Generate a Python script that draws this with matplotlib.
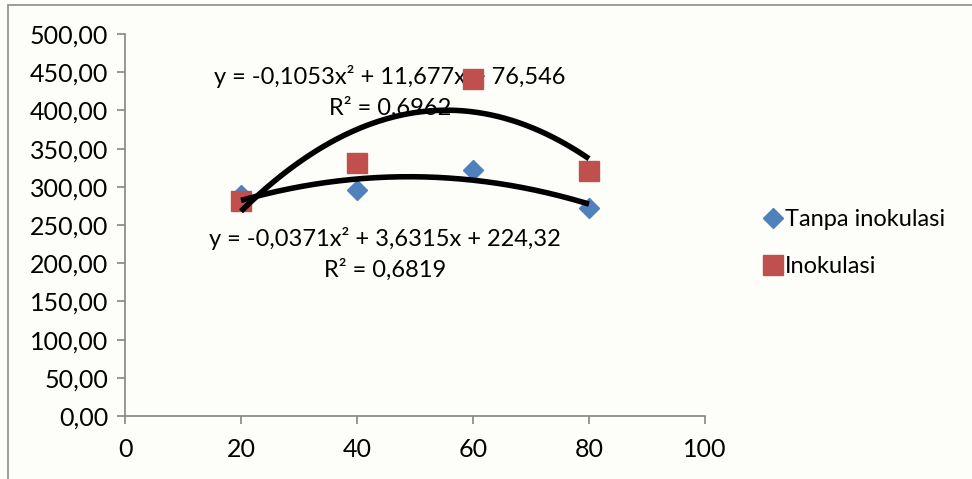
import matplotlib.pyplot as plt
import numpy as np
from matplotlib.ticker import FuncFormatter
from matplotlib.patches import Rectangle

plt.rcParams['font.family'] = ['Lato', 'DejaVu Sans']

# data
dosis = [20, 40, 60, 80]
tanpa_inokulasi = [289, 296, 322, 272]
inokulasi = [281, 331, 441, 321]

# trendline coefficients shown on the chart (a, b, c)
coef_tanpa = [-0.0371, 3.6315, 224.32]
coef_inok = [-0.1053, 11.677, 76.546]

fig = plt.figure(figsize=(9.72, 4.79), dpi=100)
fig.patch.set_facecolor('#fdfdf9')
fig.patches.append(Rectangle((8/972, -0.02), 1.1, 1 - 5/479 + 0.02, transform=fig.transFigure,
                             fill=False, edgecolor='#8c8c8c', linewidth=1.2))

ax = fig.add_axes([125/972, 1 - 416/479, 580/972, 382/479])
ax.set_facecolor('none')

xs = np.linspace(20, 80, 200)
ax.plot(xs, np.polyval(coef_inok, xs), color='black', lw=4, solid_capstyle='butt', zorder=3)
ax.plot(xs, np.polyval(coef_tanpa, xs), color='black', lw=4, solid_capstyle='butt', zorder=3)

ax.plot(dosis, tanpa_inokulasi, linestyle='none', marker='D', markersize=10,
        color='#4F81BD', markeredgecolor='#4F81BD', label='Tanpa inokulasi', zorder=2)
ax.plot(dosis, inokulasi, linestyle='none', marker='s', markersize=14,
        color='#C0504D', markeredgecolor='#C0504D', label='Inokulasi', zorder=2)

ax.set_xlim(0, 100)
ax.set_ylim(0, 500)
ax.set_xticks(range(0, 101, 20))
ax.set_yticks(range(0, 501, 50))
ax.yaxis.set_major_formatter(FuncFormatter(lambda v, p: ('%.2f' % v).replace('.', ',')))

for s in ['top', 'right']:
    ax.spines[s].set_visible(False)
for s in ['left', 'bottom']:
    ax.spines[s].set_color('#868686')
    ax.spines[s].set_linewidth(1.2)
ax.tick_params(axis='both', colors='#868686', labelcolor='black', labelsize=18, length=6, width=1.2)
ax.tick_params(axis='x', pad=10)
ax.tick_params(axis='y', pad=6)

eq_size = 17
ax.text(390/972, 1 - 76/479, 'y = -0,1053x² + 11,677x + 76,546', transform=fig.transFigure,
        ha='center', va='center', fontsize=eq_size, zorder=1)
ax.text(390/972, 1 - 108/479, 'R² = 0,6962', transform=fig.transFigure,
        ha='center', va='center', fontsize=eq_size, zorder=1)
ax.text(385/972, 1 - 238/479, 'y = -0,0371x² + 3,6315x + 224,32', transform=fig.transFigure,
        ha='center', va='center', fontsize=eq_size, zorder=1)
ax.text(385/972, 1 - 270/479, 'R² = 0,6819', transform=fig.transFigure,
        ha='center', va='center', fontsize=eq_size, zorder=1)

ax.legend(loc='center left', bbox_to_anchor=(745/972, 1 - 243/479), bbox_transform=fig.transFigure,
          frameon=False, fontsize=17, handlelength=0.6, handletextpad=0.2, labelspacing=1.1,
          markerscale=1.0)

fig.savefig('out.png', dpi=100, facecolor=fig.get_facecolor())
